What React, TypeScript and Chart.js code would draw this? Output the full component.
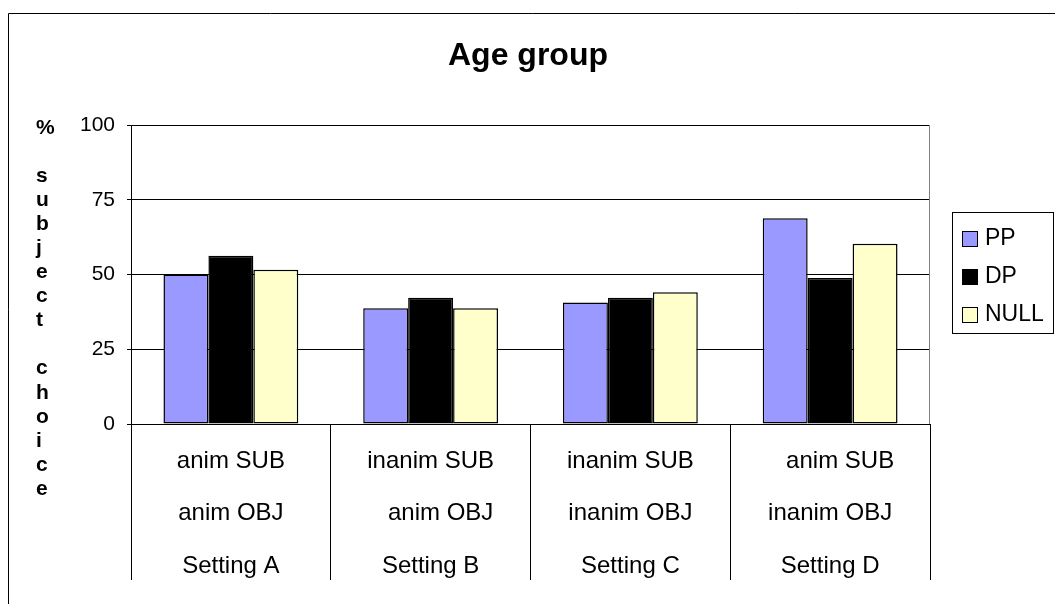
import React, { useEffect, useRef } from "react";
import { Chart, registerables } from "chart.js";

Chart.register(...registerables);

const TITLE = "Age group";
const Y_TITLE = "% subject choice";
const CATEGORIES: string[][] = [
  ["anim SUB", "anim OBJ", "Setting A"],
  ["inanim SUB", "   anim OBJ", "Setting B"],
  ["inanim SUB", "inanim OBJ", "Setting C"],
  ["   anim SUB", "inanim OBJ", "Setting D"],
];
const SERIES_NAMES = ["PP", "DP", "NULL"];
const PP = [50, 38.7, 40.6, 68.8];
const DP = [56.3, 42.2, 42.2, 48.8];
const NULL_VALUES = [51.6, 38.7, 44.1, 60.3];
const SERIES_COLORS = ["#9999FF", "#000000", "#FFFFCC"];
const Y_TICKS = [0, 25, 50, 75, 100];

const FONT = "'Liberation Sans', Arial, Helvetica, sans-serif";

const decorPlugin = {
  id: "decor",
  beforeDraw(chart: any) {
    const ctx = chart.ctx;
    ctx.save();
    ctx.fillStyle = "#ffffff";
    ctx.fillRect(0, 0, chart.width, chart.height);
    ctx.strokeStyle = "#000000";
    ctx.lineWidth = 1;
    ctx.beginPath();
    ctx.moveTo(8.5, chart.height + 5);
    ctx.lineTo(8.5, 13.5);
    ctx.lineTo(chart.width + 5, 13.5);
    ctx.stroke();
    ctx.restore();
  },
  afterDraw(chart: any) {
    const ctx = chart.ctx;
    const area = chart.chartArea;
    ctx.save();
    // right frame of plot area
    ctx.strokeStyle = "#808080";
    ctx.lineWidth = 1;
    ctx.beginPath();
    ctx.moveTo(Math.round(area.right) - 0.5, area.top);
    ctx.lineTo(Math.round(area.right) - 0.5, area.bottom);
    ctx.stroke();

    // title
    ctx.fillStyle = "#000000";
    ctx.font = `bold 32px ${FONT}`;
    ctx.textAlign = "center";
    ctx.textBaseline = "alphabetic";
    ctx.fillText(TITLE, 528, 65);

    // stacked vertical y title
    ctx.font = `bold 21px ${FONT}`;
    ctx.textAlign = "left";
    ctx.textBaseline = "middle";
    const chars = Y_TITLE.split("");
    chars.forEach((c, i) => {
      if (c !== " ") ctx.fillText(c, 36, 128 + i * 24.07);
    });

    // legend
    const lx = 952.5, ly = 212.5, lw = 101, lh = 121;
    ctx.strokeStyle = "#000000";
    ctx.lineWidth = 1;
    ctx.strokeRect(lx, ly, lw, lh);
    ctx.font = `23px ${FONT}`;
    ctx.textAlign = "left";
    ctx.textBaseline = "middle";
    chart.data.datasets.forEach((ds: any, i: number) => {
      const cy = 239 + i * 38;
      ctx.fillStyle = ds.backgroundColor;
      ctx.fillRect(962, cy - 8, 15, 15);
      ctx.strokeStyle = "#000000";
      ctx.strokeRect(962.5, cy - 7.5, 15, 15);
      ctx.fillStyle = "#000000";
      ctx.fillText(ds.label, 985, cy);
    });
    ctx.restore();
  },
};

export default function App() {
  const ref = useRef<HTMLCanvasElement | null>(null);
  useEffect(() => {
    if (!ref.current) return;
    const data = [PP, DP, NULL_VALUES];
    const chart = new Chart(ref.current, {
      type: "bar",
      data: {
        labels: CATEGORIES,
        datasets: SERIES_NAMES.map((name, i) => ({
          label: name,
          data: data[i],
          backgroundColor: SERIES_COLORS[i],
          borderColor: "#000000",
          borderWidth: 1.5,
          borderSkipped: false,
          categoryPercentage: 0.675,
          barPercentage: 1.0,
        })),
      },
      options: {
        responsive: false,
        animation: false,
        devicePixelRatio: 1,
        layout: { padding: { left: 0, right: 125, top: 125, bottom: 0 } },
        plugins: {
          legend: { display: false },
          title: { display: false },
          tooltip: { enabled: false },
        },
        scales: {
          x: {
            offset: true,
            grid: {
              display: true,
              offset: true,
              drawOnChartArea: false,
              drawTicks: true,
              tickLength: 156,
              color: "#000000",
            },
            border: { display: true, color: "#000000", width: 1 },
            ticks: {
              color: "#000000",
              font: { family: FONT, size: 24, lineHeight: 2.1875 },
              padding: -145,
              maxRotation: 0,
              autoSkip: false,
            },
            afterFit: (scale: any) => {
              scale.height = 180;
            },
          },
          y: {
            min: 0,
            max: 100,
            afterBuildTicks: (scale: any) => {
              scale.ticks = Y_TICKS.map((v) => ({ value: v }));
            },
            grid: {
              color: "#000000",
              drawTicks: true,
              tickLength: 4,
            },
            border: { display: true, color: "#000000", width: 1 },
            ticks: {
              color: "#000000",
              font: { family: FONT, size: 21 },
              padding: 12,
            },
            afterFit: (scale: any) => {
              scale.width = 131;
            },
          },
        },
      },
      plugins: [decorPlugin],
    });
    return () => chart.destroy();
  }, []);
  return (
    <div style={{ position: "fixed", left: 0, top: 0, width: 1055, height: 604 }}>
      <canvas ref={ref} width={1055} height={604} style={{ display: "block" }} />
    </div>
  );
}
